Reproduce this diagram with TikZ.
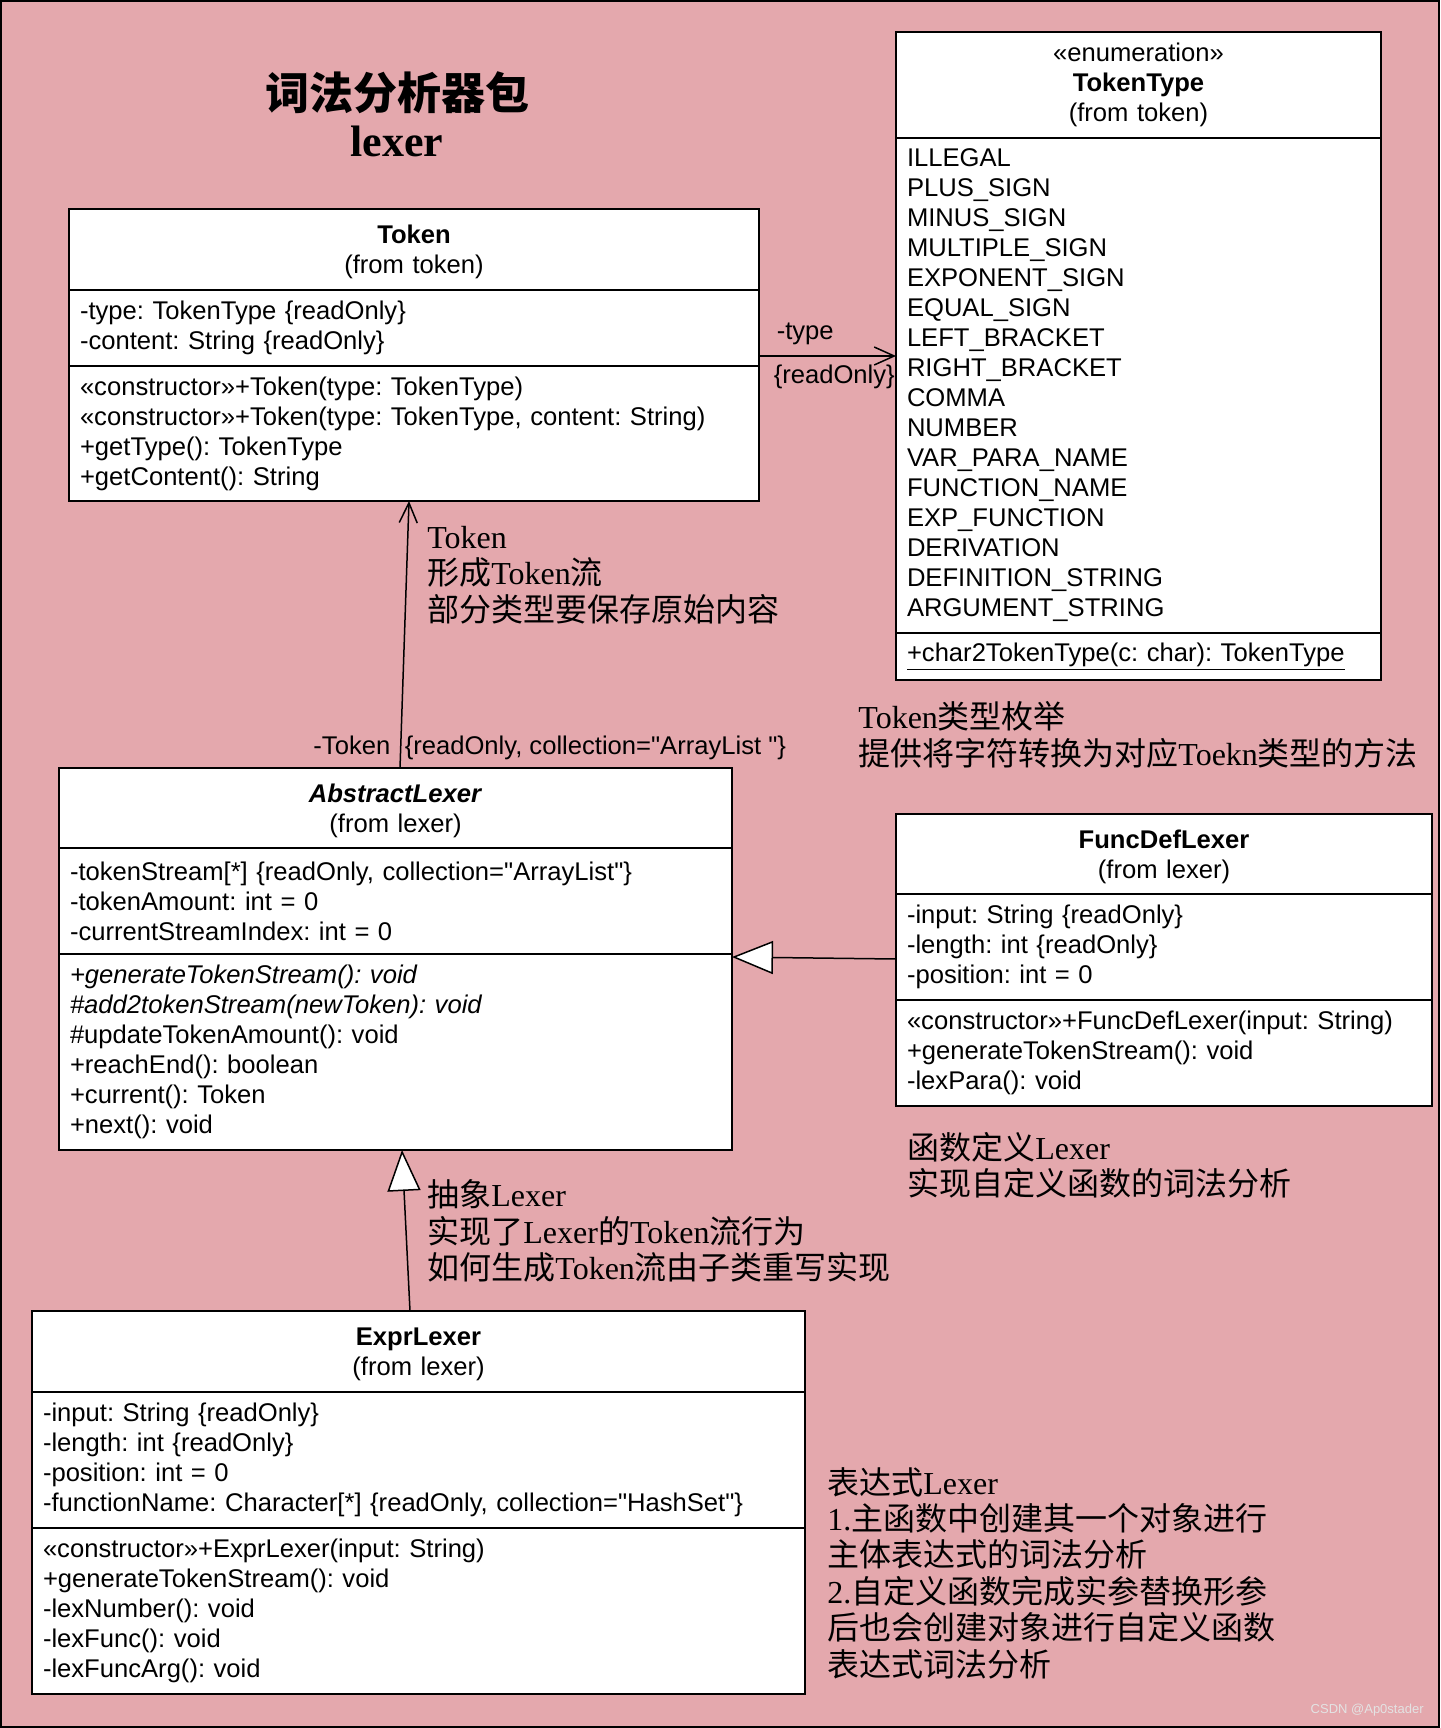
\documentclass[tikz,border=0pt]{standalone}
\usepackage{fontspec}
\newfontfamily\umlsans{Liberation Sans}
\newfontfamily\notefont{Liberation Serif}
\newfontfamily\cjk{Noto Sans CJK SC}
\newcommand{\zh}[1]{{\cjk #1}}
\newcommand{\umlfont}{\umlsans\fontsize{12.8}{15}\selectfont\frenchspacing}
\usetikzlibrary{positioning,arrows.meta}
\definecolor{bgpink}{RGB}{228,168,173}

\tikzset{
  classpart/.style={draw, fill=white, line width=1pt, outer sep=0pt, inner xsep=5.5pt, inner ysep=0pt, align=left, font=\umlfont},
  classhead/.style={classpart, align=center, anchor=north},
  classtitle/.style={classhead, execute at begin node={\rule{0pt}{12pt}}},
  note/.style={anchor=west, inner sep=0pt, align=left, font=\notefont\fontsize{16}{18.2}\selectfont},
  rolelabel/.style={font=\umlfont, inner sep=0pt},
  assoc/.style={-{Straight Barb[length=10pt,width=9pt]}, line width=0.75pt},
  inherit/.style={-{Triangle[length=20.5pt,width=16.5pt,fill=white]}, line width=0.75pt},
}

\begin{document}
\begin{tikzpicture}[x=0.5pt, y=-0.5pt]
  % Background
  \useasboundingbox (0,0) rectangle (1440,1728);
  \draw[fill=bgpink, line width=1pt] (1,1) rectangle (1439,1727);

  % Package title
  \node[align=center, inner sep=0pt, font=\notefont\bfseries\fontsize{22}{23.5}\selectfont] (title) at (397,114) {\zh{词法分析器包}\\lexer};

  % Token
  \node[classtitle, text width=334pt, minimum height=40.5pt] (token) at (414,209) {\textbf{Token}\\(from token)};
  \node[classpart, text width=334pt, minimum height=38pt, below=0pt of token] (tokenattr) {-type: TokenType \{readOnly\}\\-content: String \{readOnly\}};
  \node[classpart, text width=334pt, minimum height=67.5pt, below=0pt of tokenattr] (tokenops) {«constructor»+Token(type: TokenType)\\«constructor»+Token(type: TokenType, content: String)\\+getType(): TokenType\\+getContent(): String};

  % TokenType
  \node[classhead, text width=231.5pt, minimum height=53pt, execute at begin node={\rule{0pt}{8.6pt}}] (tokentype) at (1138.5,32) {«enumeration»\\\textbf{TokenType}\\(from token)};
  \node[classpart, text width=231.5pt, minimum height=247.5pt, below=0pt of tokentype] (typelist) {ILLEGAL\\PLUS\_SIGN\\MINUS\_SIGN\\MULTIPLE\_SIGN\\EXPONENT\_SIGN\\EQUAL\_SIGN\\LEFT\_BRACKET\\RIGHT\_BRACKET\\COMMA\\NUMBER\\VAR\_PARA\_NAME\\FUNCTION\_NAME\\EXP\_FUNCTION\\DERIVATION\\DEFINITION\_STRING\\ARGUMENT\_STRING};
  \node[classpart, text width=231.5pt, minimum height=23.5pt, below=0pt of typelist] (typeops) {\underline{+char2TokenType(c: char): TokenType}};

  % AbstractLexer
  \node[classtitle, text width=325.5pt, minimum height=40pt] (abstract) at (395.5,768) {\textbf{\textit{AbstractLexer}}\\(from lexer)};
  \node[classpart, text width=325.5pt, minimum height=53pt, below=0pt of abstract] (abstractattr) {-tokenStream[*] \{readOnly, collection="ArrayList"\}\\-tokenAmount: int = 0\\-currentStreamIndex: int = 0};
  \node[classpart, text width=325.5pt, minimum height=98pt, below=0pt of abstractattr] (abstractops) {\textit{+generateTokenStream(): void}\\\textit{\#add2tokenStream(newToken): void}\\\#updateTokenAmount(): void\\+reachEnd(): boolean\\+current(): Token\\+next(): void};

  % FuncDefLexer
  \node[classtitle, text width=257pt, minimum height=40pt] (func) at (1164,814) {\textbf{FuncDefLexer}\\(from lexer)};
  \node[classpart, text width=257pt, minimum height=53pt, below=0pt of func] (funcattr) {-input: String \{readOnly\}\\-length: int \{readOnly\}\\-position: int = 0};
  \node[classpart, text width=257pt, minimum height=53pt, below=0pt of funcattr] (funcops) {«constructor»+FuncDefLexer(input: String)\\+generateTokenStream(): void\\-lexPara(): void};

  % ExprLexer
  \node[classtitle, text width=375.5pt, minimum height=40.5pt] (expr) at (418.5,1311) {\textbf{ExprLexer}\\(from lexer)};
  \node[classpart, text width=375.5pt, minimum height=68pt, below=0pt of expr] (exprattr) {-input: String \{readOnly\}\\-length: int \{readOnly\}\\-position: int = 0\\-functionName: Character[*] \{readOnly, collection="HashSet"\}};
  \node[classpart, text width=375.5pt, minimum height=83pt, below=0pt of exprattr] (exprops) {«constructor»+ExprLexer(input: String)\\+generateTokenStream(): void\\-lexNumber(): void\\-lexFunc(): void\\-lexFuncArg(): void};

  % Associations
  \draw[assoc] ([yshift=5pt]tokenattr.south east) coordinate (typestart) -- (typestart -| typelist.west)
    node[rolelabel, pos=0, anchor=base west, xshift=8.5pt, yshift=8.5pt] (typerole) {-type}
    node[rolelabel, pos=0, anchor=base west, xshift=7pt, yshift=-13.5pt] (typeprop) {\{readOnly\}};
  \draw[assoc] ([xshift=2.25pt]abstract.north) -- ([xshift=-2.5pt]tokenops.south)
    node[rolelabel, pos=0, anchor=base east, xshift=-4.5pt, yshift=7pt] (tokenrole) {-Token}
    node[rolelabel, pos=0, anchor=base west, xshift=2pt, yshift=7pt] (tokenprop) {\{readOnly, collection="ArrayList "\}};

  % Generalizations
  \draw[inherit] ([yshift=-6pt]funcattr.west) -- ([yshift=-1.5pt]abstractops.north east);
  \draw[inherit] ([xshift=-4.25pt]expr.north) -- ([xshift=3.25pt]abstractops.south);

  % Notes
  \node[note] (tokennote) at (427,575) {Token\\\zh{形成}Token\zh{流}\\\zh{部分类型要保存原始内容}};
  \node[note] (typenote) at (858,735) {Token\zh{类型枚举}\\\zh{提供将字符转换为对应}Toekn\zh{类型的方法}};
  \node[note] (abstractnote) at (427,1231) {\zh{抽象}Lexer\\\zh{实现了}Lexer\zh{的}Token\zh{流行为}\\\zh{如何生成}Token\zh{流由子类重写实现}};
  \node[note] (funcnote) at (907,1165) {\zh{函数定义}Lexer\\\zh{实现自定义函数的词法分析}};
  \node[note] (exprnote) at (827,1573) {\zh{表达式}Lexer\\1.\zh{主函数中创建其一个对象进行}\\\zh{主体表达式的词法分析}\\2.\zh{自定义函数完成实参替换形参}\\\zh{后也会创建对象进行自定义函数}\\\zh{表达式词法分析}};

  % Watermark
  \node[font=\umlsans\fontsize{6.5}{8}\selectfont, text=white!78!gray, anchor=east, inner sep=0pt] (csdn) at (1424,1710) {CSDN @Ap0stader};
\end{tikzpicture}
\end{document}
